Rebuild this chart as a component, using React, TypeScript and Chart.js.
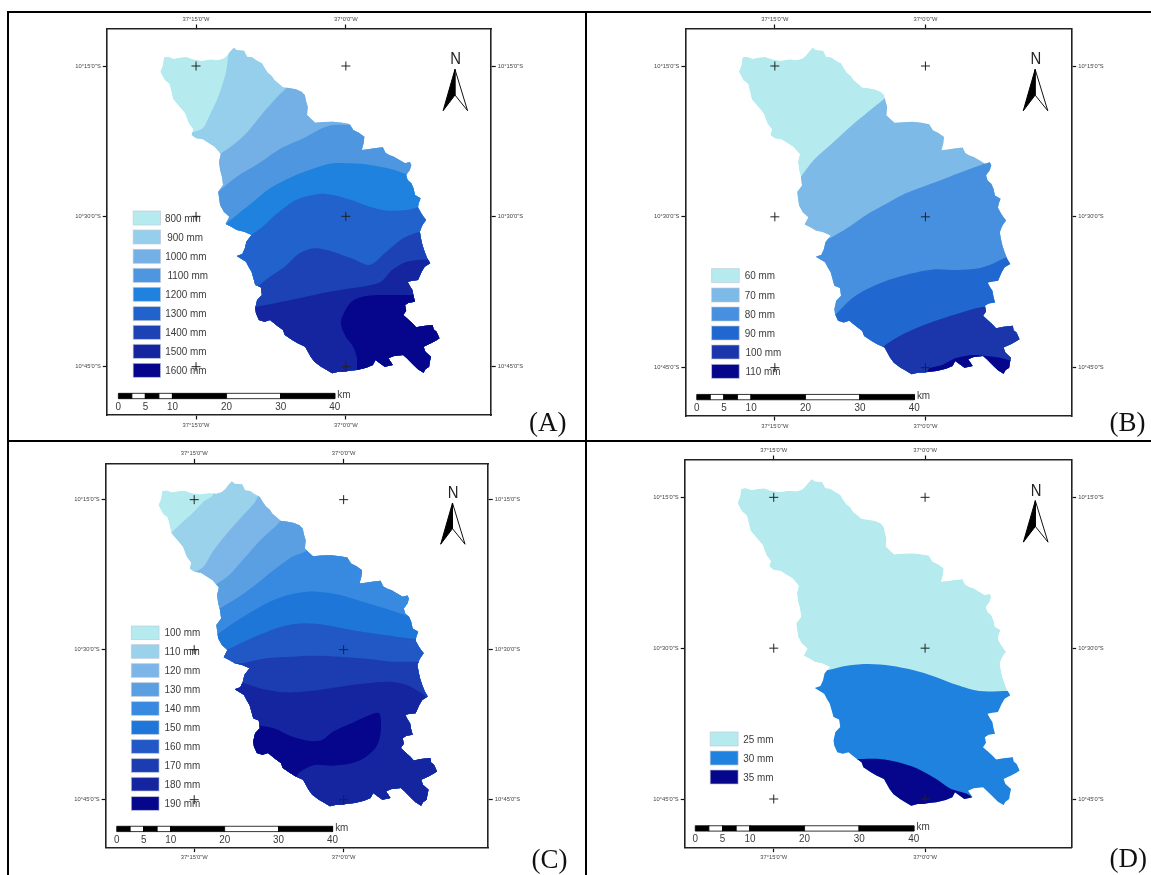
import React, { useEffect, useRef } from "react";
import { Chart, registerables } from "chart.js";

// ---------- digitised map (grid units of panel A, see gridA) ----------
const basinOutline = [[443,172],[455,170],[470,176],[490,172],[505,171],[522,178],[545,182],[570,178],[590,180],[605,175],[615,165],[622,155],[632,143],[640,150],[660,152],[668,170],[682,172],[692,180],[708,190],[716,205],[724,218],[735,228],[742,240],[755,252],[765,262],[780,264],[800,268],[815,275],[824,285],[828,305],[832,320],[830,345],[842,358],[852,368],[875,366],[900,365],[925,368],[945,372],[955,390],[970,398],[985,410],[983,430],[978,450],[995,448],[1012,445],[1035,442],[1042,458],[1052,465],[1065,470],[1080,480],[1095,490],[1108,486],[1112,495],[1108,510],[1098,525],[1102,540],[1112,550],[1118,565],[1122,585],[1137,595],[1132,610],[1130,622],[1138,638],[1145,650],[1152,660],[1144,672],[1140,680],[1135,695],[1138,715],[1142,735],[1148,755],[1155,775],[1163,790],[1148,800],[1140,815],[1130,840],[1115,842],[1102,845],[1108,858],[1115,870],[1118,888],[1122,905],[1105,908],[1095,915],[1098,932],[1090,945],[1100,955],[1115,970],[1125,982],[1145,978],[1170,975],[1172,988],[1180,995],[1188,1015],[1178,1022],[1165,1030],[1145,1040],[1150,1055],[1165,1070],[1162,1085],[1160,1100],[1150,1108],[1145,1118],[1130,1108],[1118,1095],[1100,1075],[1090,1065],[1065,1068],[1050,1075],[1062,1095],[1040,1100],[1015,1080],[1008,1095],[990,1103],[965,1110],[945,1112],[930,1115],[915,1115],[898,1120],[880,1108],[868,1100],[850,1085],[840,1070],[825,1040],[805,1030],[790,1020],[770,1005],[765,990],[750,978],[730,960],[715,965],[700,960],[692,940],[690,925],[695,900],[708,885],[705,862],[690,855],[685,835],[680,815],[672,800],[665,785],[640,768],[655,762],[662,745],[666,725],[680,705],[660,695],[640,690],[625,680],[610,672],[620,650],[605,635],[595,615],[590,575],[603,555],[600,530],[595,510],[592,485],[597,462],[580,440],[565,430],[548,418],[530,415],[518,405],[522,388],[510,370],[500,340],[485,320],[468,298],[462,270],[458,252],[445,240],[433,215],[440,195],[443,172]];
const arrowLeft = [[1230,208],[1198,332],[1230,285],[1230,208]];
const arrowRight = [[1230,208],[1264,332],[1230,285],[1230,208]];

const scaleBarKm = [0, 2.5, 5, 7.5, 10, 20, 30, 40];
const scaleBarLabels = [0, 5, 10, 20, 30, 40];
const lonTicks = [-37.25, -37];
const latTicks = [-10.25, -10.5, -10.75];
const lonLabels = ['37°15\'0"W', '37°0\'0"W'];
const latLabels = ['10°15\'0"S', '10°30\'0"S', '10°45\'0"S'];

// ---------- isolines per panel, in that panel's digitising grid ----------
const isoA = [
  [[518,398],[548,385],[565,350],[590,290],[610,220],[617,165],[625,100]],
  [[598,460],[630,435],[670,395],[710,340],[750,290],[775,262],[800,200]],
  [[590,575],[640,530],[700,490],[760,445],[820,415],[870,385],[900,375],[950,375],[1000,375]],
  [[610,672],[640,645],[680,610],[730,565],[790,530],[850,505],[900,490],[950,490],[1000,495],[1060,508],[1098,522],[1200,540]],
  [[680,705],[710,680],[750,640],[800,600],[860,582],[900,585],[950,600],[1000,620],[1050,632],[1100,630],[1135,620],[1250,610]],
  [[695,860],[730,830],[770,800],[810,760],[850,745],[900,755],[950,775],[1000,795],[1040,760],[1090,715],[1137,695],[1250,680]],
  [[695,920],[750,908],[810,895],[870,880],[930,868],[990,858],[1030,845],[1060,810],[1100,785],[1165,778],[1250,775]],
  [[965,1400],[965,1110],[965,1075],[955,1040],[935,1010],[922,975],[925,950],[950,905],[980,890],[1020,885],[1060,885],[1300,885]],
];
const isoB = [
  [[615,530],[650,480],[700,430],[760,370],[838,300],[880,260]],
  [[695,715],[740,685],[800,640],[850,610],[900,580],[960,555],[1020,530],[1080,505],[1130,485],[1200,470]],
  [[708,945],[760,890],[830,850],[900,825],[980,808],[1040,810],[1100,805],[1140,790],[1175,772],[1250,760]],
  [[838,1040],[880,1010],[950,975],[1030,945],[1115,920],[1250,920]],
  [[960,1400],[960,1112],[1000,1095],[1035,1075],[1080,1065],[1120,1068],[1150,1072],[1190,1082],[1300,1082]],
];
const isoC = [
  [[462,295],[490,265],[520,235],[550,200],[575,180],[575,100]],
  [[520,415],[550,395],[575,350],[610,300],[650,250],[695,190],[700,120]],
  [[585,447],[620,420],[660,370],[700,320],[755,262],[790,200]],
  [[595,520],[640,490],[690,450],[740,405],[790,365],[828,347],[860,300]],
  [[588,598],[630,565],[680,530],[740,495],[800,475],[860,470],[920,480],[980,500],[1040,520],[1115,545],[1200,545]],
  [[605,650],[650,625],[700,600],[760,575],[820,565],[880,570],[950,585],[1040,600],[1125,612],[1200,612]],
  [[655,685],[720,670],[790,665],[850,662],[920,665],[1000,672],[1060,680],[1135,680],[1200,680]],
  [[660,745],[710,762],[770,772],[840,768],[920,755],[990,745],[1050,740],[1100,750],[1140,775],[1158,790],[1250,790]],
];
const blobC = [[650,870],[705,872],[740,880],[790,905],[840,918],[870,915],[900,890],[950,865],[1000,840],[1025,835],[1030,880],[1020,930],[990,965],[950,985],[900,992],[850,990],[810,1012],[790,1040],[650,1040],[650,870]];
const isoD = [
  [[690,705],[740,692],[800,687],[860,692],[920,705],[980,725],[1040,750],[1100,768],[1180,768],[1300,768]],
  [[778,972],[830,972],[880,982],[930,1000],[980,1030],[1020,1060],[1082,1092],[1082,1400],[1300,1400]],
];

// ---------- legends ----------
const labelsA = ["800 mm","900 mm","1000 mm","1100 mm","1200 mm","1300 mm","1400 mm","1500 mm","1600 mm"];
const colorsA = ["#B5EBEE","#95CFEB","#74B0E6","#4E97E0","#1F82DE","#2262CC","#1C42B5","#14259F","#05068B"];
const labelsB = ["60 mm","70 mm","80 mm","90 mm","100 mm","110 mm"];
const colorsB = ["#B5EBEE","#7DBAE8","#4790DF","#2068CF","#1B35AB","#05068B"];
const labelsC = ["100 mm","110 mm","120 mm","130 mm","140 mm","150 mm","160 mm","170 mm","180 mm","190 mm"];
const colorsC = ["#B5EBEE","#9AD2EC","#7CB6E8","#5A9FE2","#378ADF","#1D76D8","#2158C6","#1C3DB2","#15259F","#05068B"];
const labelsD = ["25 mm","30 mm","35 mm"];
const colorsD = ["#B5EBEE","#1F82DE","#05068B"];

const gridA = { gx: [530, 935], gy: [198, 1100] };

const panels = [
  { letter: "(A)", letterAt: [1430, 1293], origin: [0, 0], sx: 1568 / 580, canvas: [9, 13, 576, 427], frame: [290, 1328, 87, 1245], gx: [530, 935], gy: [198, 1100],
    labels: labelsA, colors: colorsA, iso: isoA, extra: null,
    swatchX: [360, 434], swatchH: 42, swatchY: [633,690,748,805,862,920,976,1033,1090], textX: [446,452,447,453,447,447,447,447,447] },
  { letter: "(B)", letterAt: [1455, 1293], origin: [575, 0], sx: 1568 / 576, canvas: [587, 13, 564, 427], frame: [302, 1352, 87, 1248], gx: [544, 954], gy: [198, 1103],
    labels: labelsB, colors: colorsB, iso: isoB, extra: null,
    swatchX: [372, 447], swatchH: 42, swatchY: [806,864,921,978,1035,1093], textX: [462,462,462,462,464,464] },
  { letter: "(C)", letterAt: [1437, 1298], origin: [0, 435], sx: 1568 / 580, canvas: [9, 442, 576, 433], frame: [287, 1320, 85, 1238], gx: [525, 929], gy: [194, 1094],
    labels: labelsC, colors: colorsC, iso: isoC, extra: blobC,
    swatchX: [355, 430], swatchH: 41, swatchY: [573,629,686,743,800,857,914,971,1027,1085], textX: [445,445,445,445,445,445,445,445,445,445] },
  { letter: "(D)", letterAt: [1455, 1295], origin: [575, 435], sx: 1568 / 576, canvas: [587, 442, 564, 433], frame: [300, 1352, 75, 1238], gx: [541, 953], gy: [187, 1092],
    labels: labelsD, colors: colorsD, iso: isoD, extra: null,
    swatchX: [368, 444], swatchH: 42, swatchY: [891,948,1005], textX: [458,458,458] },
];

const FAR = 4000;
const SANS = '"Liberation Sans", Arial, sans-serif';
const lonOf = (g: any, u: number) => -37.25 + ((u - g.gx[0]) / (g.gx[1] - g.gx[0])) * 0.25;
const latOf = (g: any, v: number) => -10.25 - ((v - g.gy[0]) / (g.gy[1] - g.gy[0])) * 0.5;
const geo = (g: any, pts: number[][]) => pts.map(([u, v]) => ({ x: lonOf(g, u), y: latOf(g, v) }));
const below = (iso: number[][]) => [...iso, [FAR, iso[iso.length - 1][1]], [FAR, FAR], [-FAR, FAR], [-FAR, iso[0][1]], iso[0]];

const BAR_U0 = 320, BAR_UNITS_PER_KM = 585 / 40, BAR_TOP = 1180, BAR_BOTTOM = 1196;
const kmU = (km: number) => BAR_U0 + km * BAR_UNITS_PER_KM;

function condensed(ctx: any, text: string, x: number, y: number, squeeze: number) {
  ctx.fillText(text, x, y, ctx.measureText(text).width * squeeze);
}

const basinClip = {
  id: "basinClip",
  beforeDatasetDraw(chart: any, args: any) {
    if (!chart.data.datasets[args.index].inBasin) return;
    const { ctx, scales } = chart;
    ctx.save();
    ctx.beginPath();
    geo(gridA, basinOutline).forEach((p, i) => {
      const x = scales.x.getPixelForValue(p.x), y = scales.y.getPixelForValue(p.y);
      if (i) ctx.lineTo(x, y); else ctx.moveTo(x, y);
    });
    ctx.closePath();
    ctx.clip();
  },
  afterDatasetDraw(chart: any, args: any) {
    if (chart.data.datasets[args.index].inBasin) chart.ctx.restore();
  },
};

// registered first so that it runs before the filler plugin
Chart.register(basinClip);
Chart.register(...registerables);

const annotations = {
  id: "mapAnnotations",
  beforeDatasetsDraw(chart: any) {
    const p = chart.config.options.plugins.mapAnnotations.panel;
    const { ctx, scales } = chart;
    const X = (g: any, u: number) => scales.x.getPixelForValue(lonOf(g, u));
    const Y = (g: any, v: number) => scales.y.getPixelForValue(latOf(g, v));
    ctx.save();
    // legend
    p.labels.forEach((label: string, i: number) => {
      const x0 = X(p, p.swatchX[0]), x1 = X(p, p.swatchX[1]);
      const y0 = Y(p, p.swatchY[i]), y1 = Y(p, p.swatchY[i] + p.swatchH);
      ctx.fillStyle = p.colors[i];
      ctx.fillRect(x0, y0, x1 - x0, y1 - y0);
      ctx.strokeStyle = "rgba(190,200,215,0.8)";
      ctx.lineWidth = 0.8;
      ctx.strokeRect(x0, y0, x1 - x0, y1 - y0);
      ctx.fillStyle = "#3a3a3a";
      ctx.font = `11px ${SANS}`;
      ctx.textAlign = "left";
      ctx.textBaseline = "middle";
      condensed(ctx, label, X(p, p.textX[i]), (y0 + y1) / 2 + 0.5, 0.9);
    });
    // scale bar labels
    ctx.textAlign = "center";
    ctx.font = `11px ${SANS}`;
    const labelY = Y(gridA, 1220);
    scaleBarLabels.forEach((km) => condensed(ctx, String(km), X(gridA, kmU(km)), labelY, 0.9));
    ctx.textAlign = "left";
    condensed(ctx, "km", X(gridA, 912), Y(gridA, 1185), 0.9);
    // north letter
    ctx.textAlign = "center";
    ctx.fillStyle = "#222";
    ctx.font = `16.5px ${SANS}`;
    condensed(ctx, "N", X(gridA, 1232), Y(gridA, 179), 0.9);
    // panel letter
    ctx.fillStyle = "#111";
    ctx.textAlign = "left";
    ctx.textBaseline = "alphabetic";
    ctx.font = '27px "Liberation Serif", "Times New Roman", serif';
    const cv = p.canvas, o = p.origin;
    ctx.fillText(p.letter, o[0] + p.letterAt[0] / p.sx - cv[0], o[1] + p.letterAt[1] / 3 - cv[1]);
    ctx.restore();
  },
};

function polygon(data: any[], color: string, extra: any = {}) {
  return {
    type: "scatter", data, showLine: true, fill: "shape", backgroundColor: color,
    borderWidth: 0, borderColor: color, pointRadius: 0, pointHoverRadius: 0, tension: 0, ...extra,
  };
}

function Panel({ p }: { p: any }) {
  const ref = useRef<HTMLCanvasElement>(null);
  useEffect(() => {
    const [cx, cy, cw, ch] = p.canvas;
    const [l, r, t, b] = p.frame;
    const left = p.origin[0] + l / p.sx - cx, right = p.origin[0] + r / p.sx - cx;
    const top = p.origin[1] + t / 3 - cy, bottom = p.origin[1] + b / 3 - cy;

    const sets: any[] = [];
    sets.push(polygon(geo(gridA, basinOutline), p.colors[0], { inBasin: true, label: p.labels[0] }));
    p.iso.forEach((iso: number[][], i: number) =>
      sets.push(polygon(geo(p, below(iso)), p.colors[i + 1], { inBasin: true, label: p.labels[i + 1], tension: 0.3 })));
    if (p.extra) sets.push(polygon(geo(p, p.extra), p.colors[p.colors.length - 1], { inBasin: true, label: p.labels[p.labels.length - 1], tension: 0.3 }));
    for (let i = 0; i < scaleBarKm.length - 1; i++) {
      const a = kmU(scaleBarKm[i]), c = kmU(scaleBarKm[i + 1]);
      sets.push(polygon(geo(gridA, [[a, BAR_TOP], [c, BAR_TOP], [c, BAR_BOTTOM], [a, BAR_BOTTOM], [a, BAR_TOP]]),
        i % 2 ? "#ffffff" : "#000000", { borderWidth: 0.8, borderColor: "#000" }));
    }
    sets.push(polygon(geo(gridA, arrowRight), "#ffffff", { borderWidth: 1, borderColor: "#111" }));
    sets.push(polygon(geo(gridA, arrowLeft), "#000000", { borderWidth: 1, borderColor: "#000" }));
    const crosses: any[] = [];
    lonTicks.forEach((x) => latTicks.forEach((y) => crosses.push({ x, y })));
    sets.push({ type: "scatter", data: crosses, showLine: false, pointStyle: "cross", pointRadius: 4.5, pointBorderWidth: 1, pointBorderColor: "#222", pointBackgroundColor: "#222" });
    sets.forEach((s, i) => { s.order = -i; });

    const xLim = { min: lonOf(p, l), max: lonOf(p, r) };
    const yLim = { min: latOf(p, b), max: latOf(p, t) };
    const axis = (extra: any) => ({
      type: "linear",
      grid: { drawOnChartArea: false, drawTicks: true, tickLength: 4.5, tickColor: "#111", tickWidth: 1.2 },
      border: { display: true, color: "#222", width: 1.6 },
      ...extra,
    });
    const ticks = (values: number[], labels: string[]) => ({
      autoSkip: false, maxRotation: 0, minRotation: 0, padding: 2, includeBounds: false, color: "#444",
      font: { family: SANS, size: 5.8 },
      callback: (v: number) => labels[values.findIndex((o) => Math.abs(o - v) < 1e-6)] ?? "",
    });
    const setTicks = (values: number[]) => (s: any) => { s.ticks = values.map((value) => ({ value })); };
    const fit = (key: string, size: number) => (s: any) => {
      s[key] = size;
      s.paddingLeft = s.paddingRight = s.paddingTop = s.paddingBottom = 0;
    };

    const chart = new Chart(ref.current!, {
      type: "scatter",
      data: { datasets: sets },
      plugins: [annotations],
      options: {
        animation: false,
        responsive: false,
        events: [],
        layout: { padding: 0 },
        plugins: { legend: { display: false }, tooltip: { enabled: false }, mapAnnotations: { panel: p } },
        scales: {
          x: axis({ position: "bottom", ...xLim, ticks: ticks(lonTicks, lonLabels), afterBuildTicks: setTicks(lonTicks), afterFit: fit("height", ch - bottom) }),
          xTop: axis({ position: "top", axis: "x", ...xLim, ticks: ticks(lonTicks, lonLabels), afterBuildTicks: setTicks(lonTicks), afterFit: fit("height", top) }),
          y: axis({ position: "left", ...yLim, ticks: ticks(latTicks, latLabels), afterBuildTicks: setTicks(latTicks), afterFit: fit("width", left) }),
          yRight: axis({ position: "right", axis: "y", ...yLim, ticks: ticks(latTicks, latLabels), afterBuildTicks: setTicks(latTicks), afterFit: fit("width", cw - right) }),
        },
      } as any,
    } as any);
    return () => chart.destroy();
  }, [p]);
  const [cx, cy, cw, ch] = p.canvas;
  return <canvas ref={ref} width={cw} height={ch} style={{ position: "absolute", left: cx, top: cy, width: cw, height: ch, display: "block" }} />;
}

const rule = (left: number, top: number, width: number, height: number): React.CSSProperties => ({
  position: "absolute", left, top, width, height, background: "#000",
});

export default function App() {
  return (
    <div style={{ position: "fixed", left: 0, top: 0, width: 1151, height: 875, background: "#fff", overflow: "hidden" }}>
      {panels.map((p) => <Panel key={p.letter} p={p} />)}
      <div style={rule(7, 11, 1144, 2)} />
      <div style={rule(7, 11, 2, 864)} />
      <div style={rule(585, 11, 2, 864)} />
      <div style={rule(7, 440, 1144, 2)} />
    </div>
  );
}
